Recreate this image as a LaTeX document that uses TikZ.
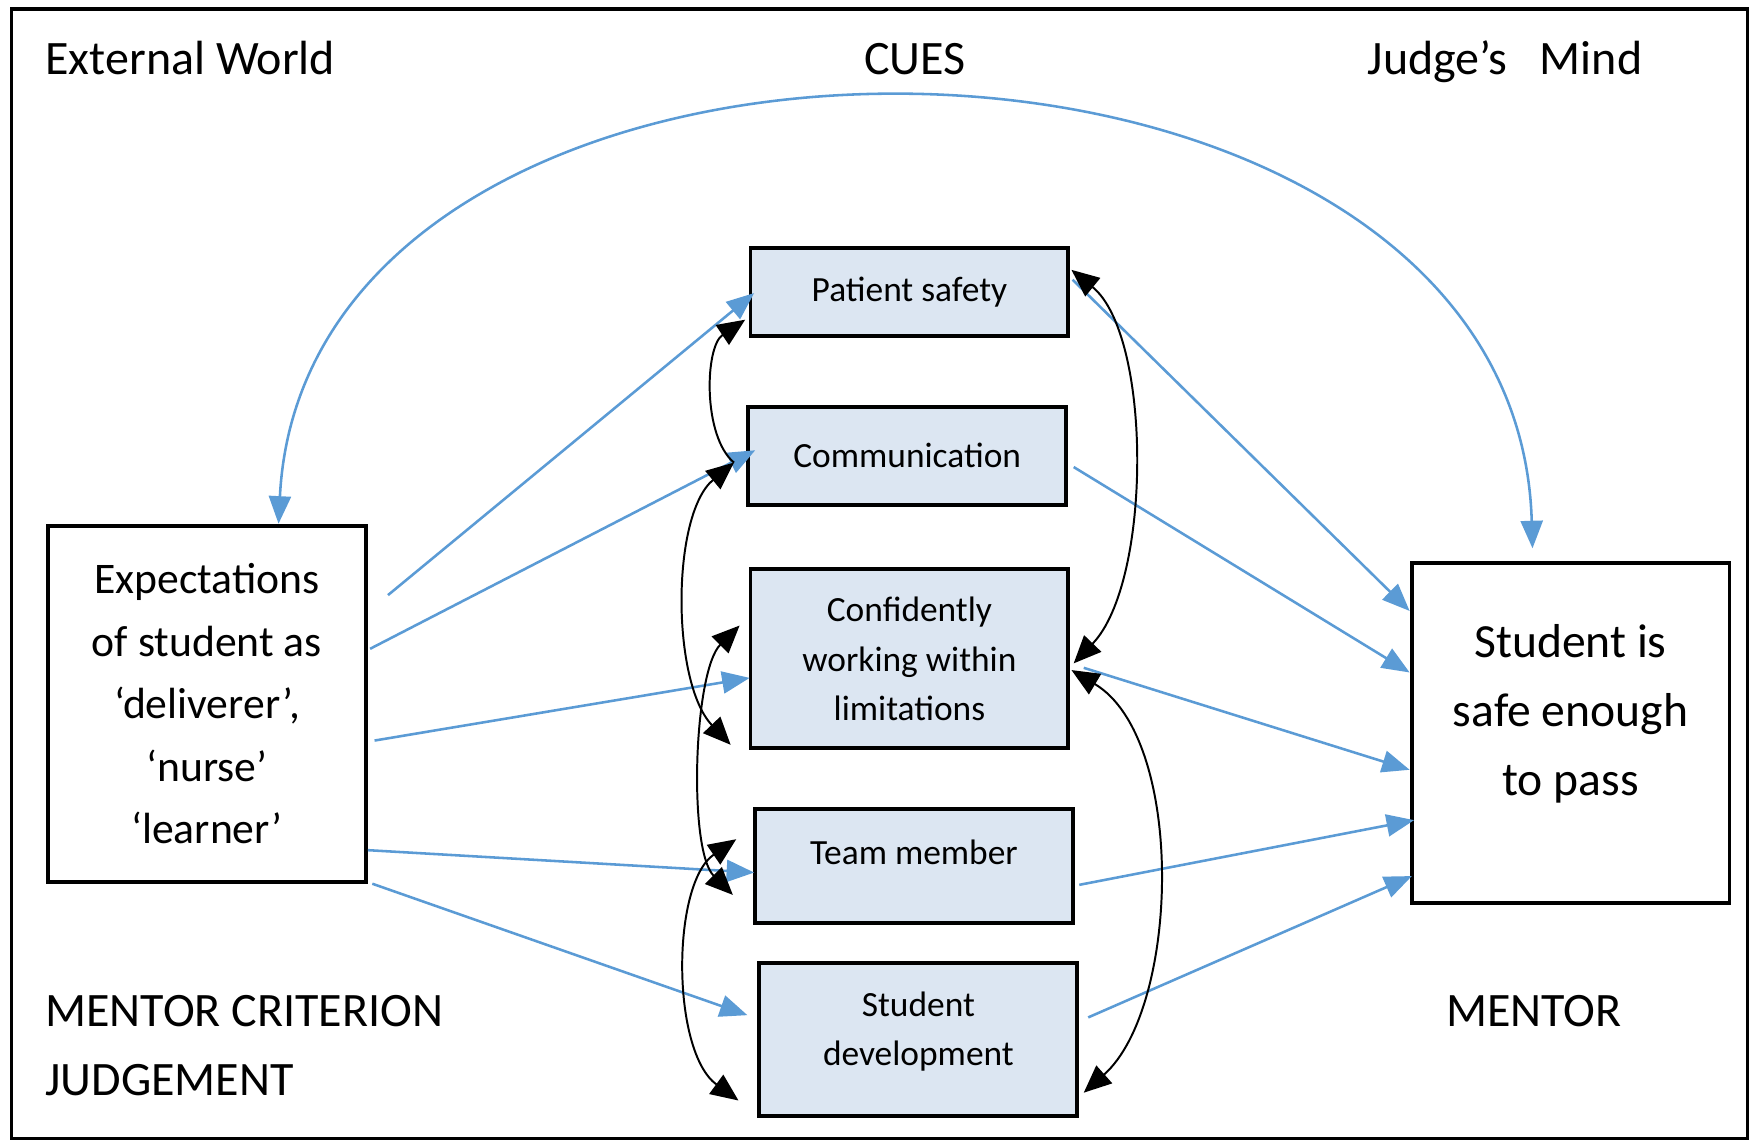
\documentclass[tikz,border=0pt]{standalone}
\usepackage{fontspec}
\setmainfont{Carlito}
\usetikzlibrary{arrows.meta,calc}
\definecolor{cuefill}{HTML}{DCE6F2}
\definecolor{linkblue}{HTML}{5B9BD5}
\begin{document}
\begin{tikzpicture}[x=0.01cm,y=-0.01cm,
  cue/.style={draw=black,line width=1pt,fill=cuefill,minimum width=2.84cm,inner sep=0pt,align=center,font=\fontsize{9}{12.5}\selectfont},
  plainbox/.style={draw=black,line width=1pt,fill=white,minimum width=2.84cm,inner sep=0pt,align=center},
  boxtext/.style={inner sep=0pt,align=center,font=\fontsize{9}{12.5}\selectfont},
  lbl/.style={inner sep=0pt,font=\fontsize{12.2}{17.4}\selectfont},
  bluetip/.tip={Triangle[length=7pt,width=5.6pt]},
  blacktip/.tip={Triangle[length=7pt,width=6pt]},
  bluearrow/.style={draw=linkblue,line width=0.65pt,-bluetip},
  blacklink/.style={draw=black,line width=0.5pt,blacktip-blacktip},
]
\useasboundingbox (0,0) rectangle (1568,1020);
\draw[line width=0.8pt] (10,8) rectangle (1562,1018);

% titles
\node[lbl,anchor=base west] (tworld) at (40,67) {External World};
\node[lbl,anchor=base] (tcues) at (818,67) {CUES};
\node[lbl,anchor=base west] (tmind) at (1222,67) {Judge’s\ \ \ Mind};
\node[lbl,anchor=base west,align=left] (tcrit) at (40,918) {MENTOR CRITERION};
\node[lbl,anchor=base west] (tjudg) at (40,979) {JUDGEMENT};
\node[lbl,anchor=base west] (tment) at (1292,918) {MENTOR};

% cue boxes
\node[cue,minimum height=0.78cm] (ps) at (813,261) {Patient safety};
\node[cue,minimum height=0.87cm] (com) at (811,407.5) {Communication};
\node[cue,minimum height=1.60cm] (conf) at (813,589) {Confidently\\working within\\limitations};
\node[cue,minimum height=1.02cm] (team) at (817,774) {};
\node[boxtext] (teamtxt) at ($(team.center)+(0,-12)$) {Team member};
\node[cue,minimum height=1.37cm] (sd) at (821,929.5) {};
\node[boxtext] (sdtxt) at ($(sd.center)+(0,-7)$) {Student\\development};

% side boxes
\node[plainbox,minimum height=3.18cm,font=\fontsize{11.1}{15.9}\selectfont] (exp) at (185,629)
  {Expectations\\of student as\\‘deliverer’,\\‘nurse’\\‘learner’};
\node[plainbox,minimum height=3.04cm] (stu) at (1404,655) {};
\node[inner sep=0pt,align=center,font=\fontsize{12.1}{17.6}\selectfont] (stutxt) at ($(stu.center)+(0,-17)$)
  {Student is\\safe enough\\to pass};

% big arc
\draw[linkblue,line width=0.65pt,bluetip-bluetip]
  ($(exp.north)+(64,0)$) .. controls (275,-45) and (1355,-35) .. ($(stu.north)+(-34,-11)$);

% blue arrows left
\coordinate (l1) at ($(exp.east)+(18,-97)$);
\coordinate (l2) at ($(exp.east)+(2,-49)$);
\coordinate (l3) at ($(exp.east)+(6,33)$);
\coordinate (l4) at ($(exp.east)+(0,131)$);
\coordinate (l5) at ($(exp.east)+(4,161)$);
\draw[bluearrow] (l1) -- ($(ps.west)+(5,1)$);
\draw[bluearrow] (l2) -- ($(com.west)+(8,-5)$);
\draw[bluearrow] (l3) -- ($(conf.west)+(1,17)$);
\draw[bluearrow] (l4) -- ($(team.west)+(1,6)$);
\draw[bluearrow] (l5) -- ($(sd.west)+(-9,-22)$);

% blue arrows right
\coordinate (r1) at ($(ps.east)+(2,-11)$);
\coordinate (r2) at ($(com.east)+(5,10)$);
\coordinate (r3) at ($(conf.east)+(12,8)$);
\coordinate (r4) at ($(team.east)+(4,17)$);
\coordinate (r5) at ($(sd.east)+(8,-20)$);
\draw[bluearrow] (r1) -- ($(stu.north west)+(0,45)$);
\draw[bluearrow] (r2) -- ($(stu.north west)+(0,100)$);
\draw[bluearrow] (r3) -- ($(stu.north west)+(0,187)$);
\draw[bluearrow] (r4) -- ($(stu.north west)+(4,232)$);
\draw[bluearrow] (r5) -- ($(stu.north west)+(2,282)$);

% black links left
\coordinate (ka1) at ($(ps.south west)+(-3,-16)$);
\coordinate (ka2) at ($(com.west)+(-11,6)$);
\coordinate (kb2) at ($(conf.south west)+(-16,-5)$);
\coordinate (kc1) at ($(conf.north west)+(-8,52)$);
\coordinate (kc2) at ($(team.west)+(-18,26)$);
\coordinate (kd1) at ($(team.north west)+(-15,29)$);
\coordinate (kd2) at ($(sd.south west)+(-17,-16)$);
\draw[black,line width=0.5pt,-blacktip] (ka2) .. controls (628,390) and (630,310) .. (ka1);
\draw[blacklink] (ka2) .. controls (600,460) and (600,610) .. (kb2);
\draw[blacklink] (kc1) .. controls (620,600) and (615,760) .. (kc2);
\draw[blacklink] (kd1) .. controls (600,790) and (600,940) .. (kd2);

% black links right
\coordinate (ke1) at ($(ps.north east)+(1,21)$);
\coordinate (ke2) at ($(conf.east)+(3,4)$);
\coordinate (kf1) at ($(conf.east)+(1,10)$);
\coordinate (kf2) at ($(sd.south east)+(4,-23)$);
\draw[blacklink] (ke1) .. controls (1030,300) and (1030,520) .. (ke2);
\draw[blacklink] (kf1) .. controls (1060,660) and (1055,900) .. (kf2);
\end{tikzpicture}
\end{document}
